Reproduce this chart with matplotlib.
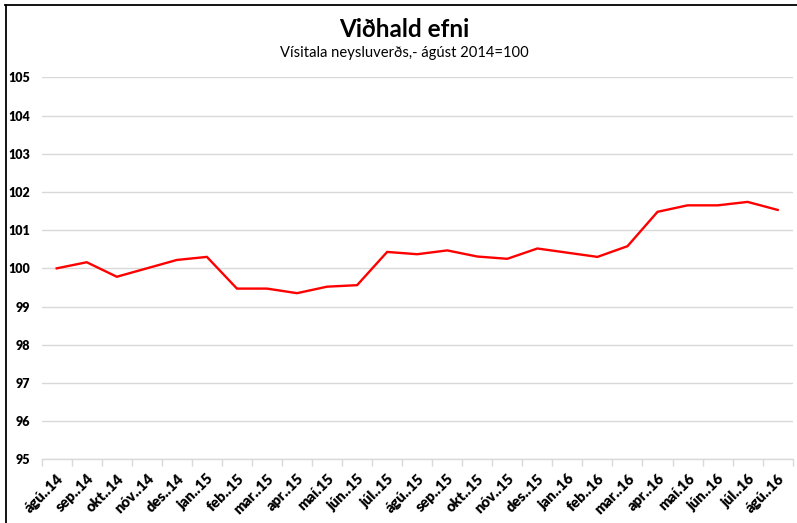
import matplotlib
matplotlib.use("Agg")
import matplotlib.pyplot as plt
from matplotlib.lines import Line2D

plt.rcParams['font.family'] = ['Lato', 'DejaVu Sans']

# Data
months = ["ágú..14", "sep..14", "okt..14", "nóv..14", "des..14", "jan..15",
          "feb..15", "mar..15", "apr..15", "maí.15", "jún..15", "júl..15",
          "ágú..15", "sep..15", "okt..15", "nóv..15", "des..15", "jan..16",
          "feb..16", "mar..16", "apr..16", "maí.16", "jún..16", "júl..16",
          "ágú..16"]
index_values = [100.0, 100.16, 99.78, 100.0, 100.22, 100.30,
                99.47, 99.47, 99.35, 99.52, 99.56, 100.43,
                100.37, 100.47, 100.31, 100.25, 100.52, 100.41,
                100.30, 100.58, 101.48, 101.65, 101.65, 101.74,
                101.53]
y_ticks = [95, 96, 97, 98, 99, 100, 101, 102, 103, 104, 105]

fig = plt.figure(figsize=(7.97, 5.23), dpi=100)
ax = fig.add_axes([0.0523, 0.1218, 0.9423, 0.7302])

x = list(range(len(months)))
ax.plot(x, index_values, color='#ff0000', linewidth=1.7, solid_joinstyle='miter')

ax.set_ylim(95, 105)
ax.set_xlim(-0.5, len(months) - 0.5)
ax.set_yticks(y_ticks)
ax.set_yticklabels([str(v) for v in y_ticks], fontsize=9, fontweight='heavy')
ax.tick_params(axis='y', length=0, pad=8)
ax.grid(axis='y', color='#d9d9d9', linewidth=1)
ax.set_axisbelow(True)

# category labels
ax.set_xticks(x)
ax.set_xticklabels(months, rotation=45, ha='right', va='top',
                   rotation_mode='anchor', fontsize=10.5, fontweight='heavy')
ax.tick_params(axis='x', length=0, pad=9)
# tick marks between categories
ax.set_xticks([i - 0.5 for i in range(len(months) + 1)], minor=True)
ax.tick_params(axis='x', which='minor', length=5, color='#d9d9d9', width=1)

for side in ['top', 'right', 'left']:
    ax.spines[side].set_visible(False)
ax.spines['bottom'].set_color('#d9d9d9')
ax.spines['bottom'].set_linewidth(1)

fig.text(0.507, 0.943, "Viðhald efni", ha='center', va='center',
         fontsize=17.5, fontweight='bold')
fig.text(0.507, 0.899, "Vísitala neysluverðs,- ágúst 2014=100", ha='center',
         va='center', fontsize=10.6)

# outer frame (top and left edges)
fig.add_artist(Line2D([5 / 797, 1], [1 - 4.8 / 523, 1 - 4.8 / 523],
                      transform=fig.transFigure, color='black', linewidth=1.3))
fig.add_artist(Line2D([5.5 / 797, 5.5 / 797], [0, 1 - 4.8 / 523],
                      transform=fig.transFigure, color='black', linewidth=1.3))

fig.savefig("out.png", dpi=100)
